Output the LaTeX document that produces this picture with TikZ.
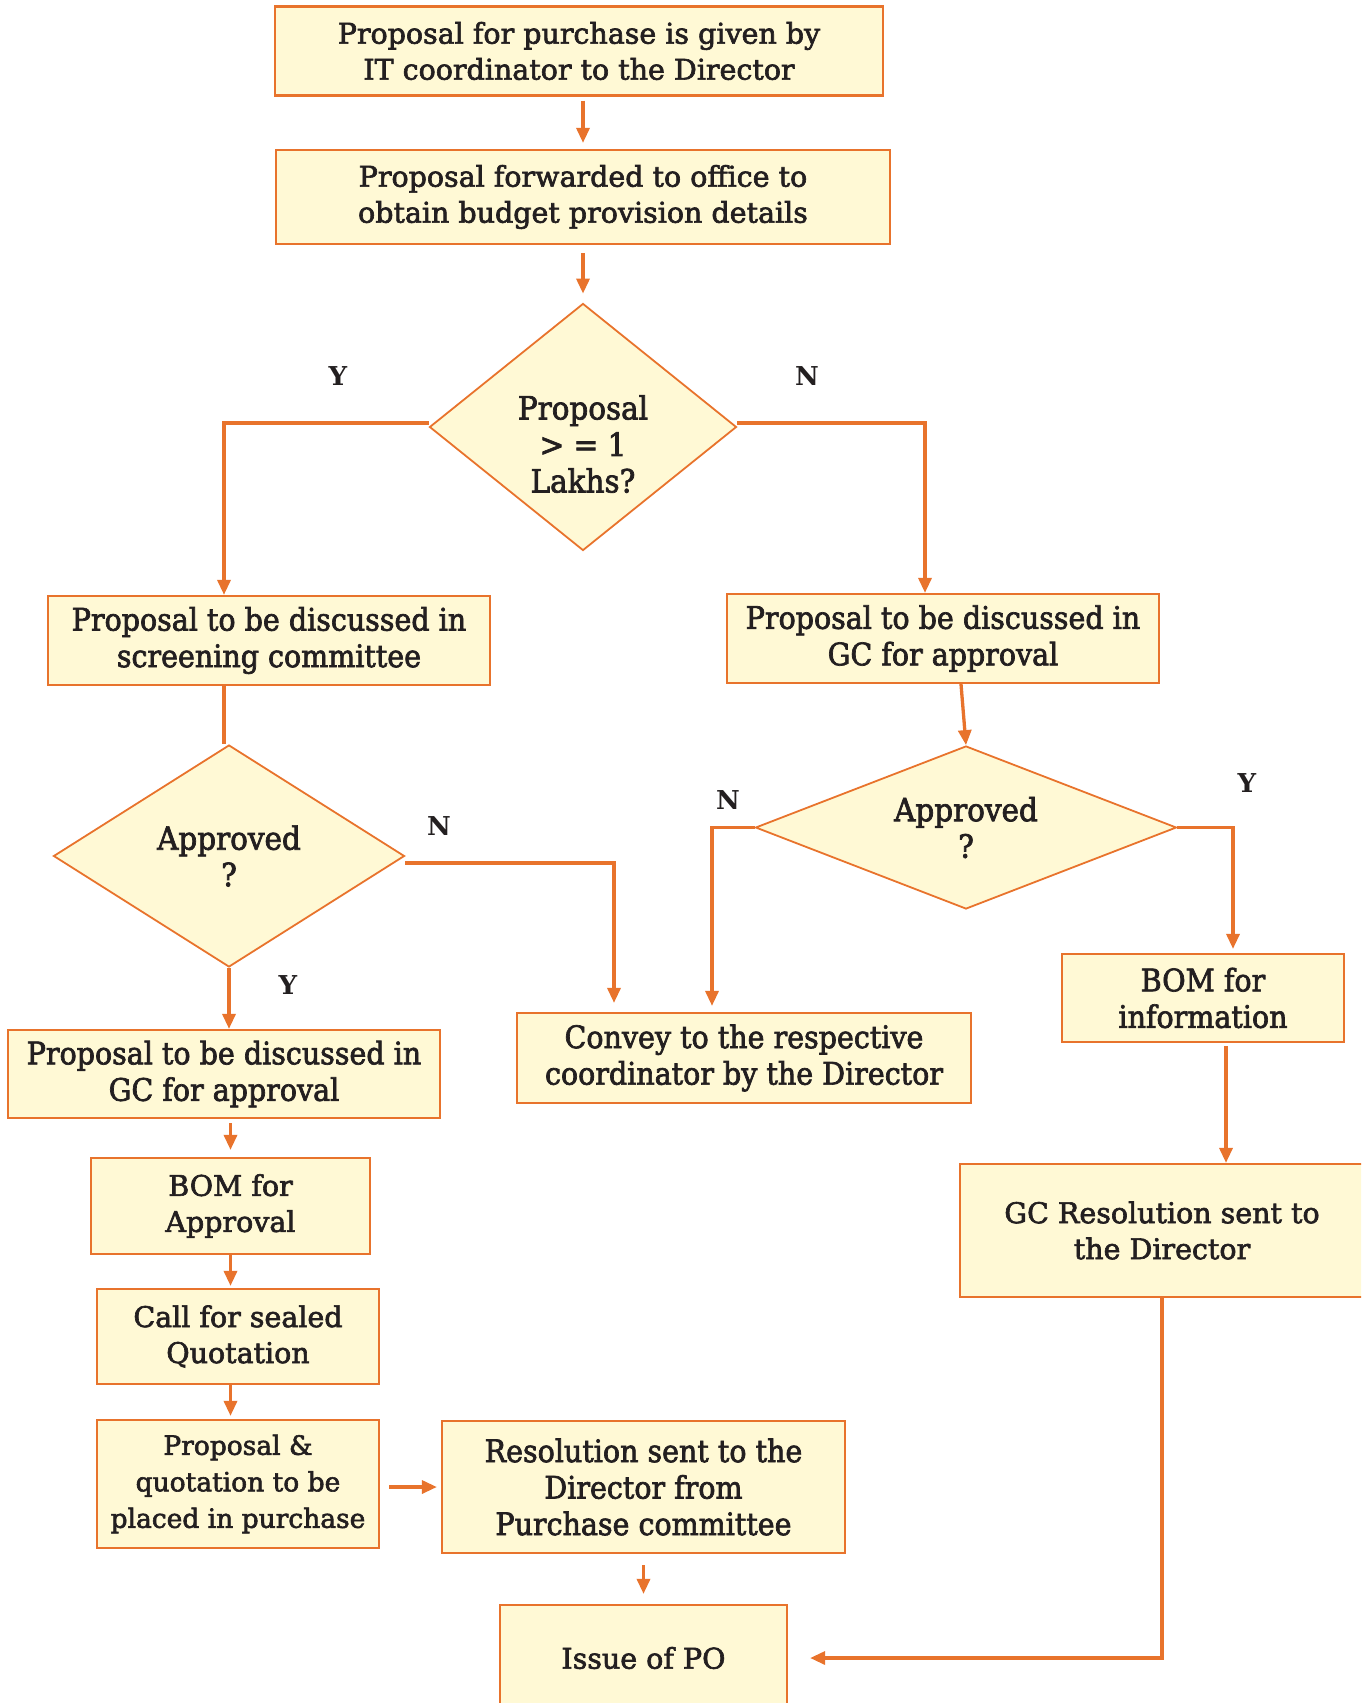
\documentclass[tikz,border=0pt]{standalone}
\usepackage{fontspec}
\setmainfont{DejaVu Serif}
\newfontfamily\slabtext[FakeBold=2.2]{DejaVu Serif}
\newfontfamily\slabnarrow[FakeStretch=0.92,FakeBold=2.2]{DejaVu Serif}
\usetikzlibrary{shapes.geometric,arrows.meta,calc}
\definecolor{edge}{HTML}{E8732C}
\definecolor{paper}{HTML}{FFF9D5}
\definecolor{ink}{HTML}{231F20}

\begin{document}
\begin{tikzpicture}[x=1pt,y=-1pt,
  box/.style={draw=edge, fill=paper, line width=2.2pt, inner sep=0pt,
    align=center, text=ink, font=\slabtext\fontsize{28.5}{36}\selectfont},
  narrowbox/.style={box, font=\slabnarrow\fontsize{31}{36.5}\selectfont},
  decision/.style={draw=edge, fill=paper, line width=1.8pt, diamond,
    inner sep=0pt, shape aspect=1},
  dtext/.style={align=center, text=ink, inner sep=0pt,
    font=\slabnarrow\fontsize{32}{36.5}\selectfont},
  yn/.style={text=ink, inner sep=0pt, font=\bfseries\fontsize{26}{30}\selectfont},
  conn/.style={draw=edge, line width=3.3pt,
    -{Triangle[length=15pt,width=13pt]}},
  plain/.style={draw=edge, line width=3.3pt}
]
\useasboundingbox (0,0) rectangle (1361,1703);
\clip (0,0) rectangle (1361,1703);

% process boxes
\node[box, minimum width=608pt, minimum height=89pt] (start) at (579,51)
  {Proposal for purchase is given by\\IT coordinator to the Director};
\node[box, minimum width=614pt, minimum height=94pt] (office) at (583,197)
  {Proposal forwarded to office to\\obtain budget provision details};
\node[narrowbox, minimum width=442pt, minimum height=89pt] (screen) at (269,640.5)
  {Proposal to be discussed in\\screening committee};
\node[narrowbox, minimum width=432pt, minimum height=89pt] (gcright) at (943,638.5)
  {Proposal to be discussed in\\GC for approval};
\node[narrowbox, minimum width=432pt, minimum height=88pt] (gcleft) at (224,1074)
  {Proposal to be discussed in\\GC for approval};
\node[narrowbox, minimum width=454pt, minimum height=90pt] (convey) at (744,1058)
  {Convey to the respective\\coordinator by the Director};
\node[narrowbox, minimum width=282pt, minimum height=88pt] (bominfo) at (1203,998)
  {BOM for\\information};
\node[box, minimum width=404pt, minimum height=133pt] (gcres) at (1162,1230.5)
  {GC Resolution sent to\\the Director};
\node[box, minimum width=279pt, minimum height=96pt] (bomapp) at (230.5,1206)
  {BOM for\\Approval};
\node[box, minimum width=282pt, minimum height=95pt] (sealed) at (238,1336.5)
  {Call for sealed\\Quotation};
\node[box, minimum width=282pt, minimum height=128pt, font=\slabtext\fontsize{26.5}{36.5}\selectfont] (placed) at (238,1484)
  {Proposal \&\\quotation to be\\placed in purchase};
\node[narrowbox, minimum width=403pt, minimum height=132pt] (resol) at (643.5,1487)
  {Resolution sent to the\\Director from\\Purchase committee};
\node[box, minimum width=287pt, minimum height=106pt] (po) at (643.5,1658)
  {Issue of PO};

% decisions
\node[decision, minimum width=307pt, minimum height=247pt] (amount) at (583,427) {};
\node[dtext] (amountq) at (583,444) {Proposal\\> = 1\\Lakhs?};
\node[decision, minimum width=351pt, minimum height=222pt] (okleft) at (229,856) {};
\node[dtext] (okleftq) at (229,856) {Approved\\?};
\node[decision, minimum width=421pt, minimum height=163pt, shape aspect=2.5] (okright) at (966,827.5) {};
\node[dtext] (okrightq) at (966,827.5) {Approved\\?};

% branch labels
\node[yn] (y1) at (338,376) {Y};
\node[yn] (n1) at (807,376) {N};
\node[yn] (n2) at (439,826) {N};
\node[yn] (y2) at (288,985) {Y};
\node[yn] (n3) at (728,800) {N};
\node[yn] (y3) at (1247,783) {Y};

% main trunk
\draw[conn, shorten <=4pt, shorten >=6pt] (start.south -| office.north) -- (office.north);
\draw[conn, shorten <=8pt, shorten >=9pt] (office.south) -- (amount.north);

% first decision
\draw[conn] ([yshift=4pt]amount.west) -| ([xshift=-45pt]screen.north);
\draw[conn] ([yshift=4pt]amount.east) -| ([xshift=-18pt]gcright.north);

% screening committee branch
\draw[plain] ([xshift=-45pt]screen.south) -- ([xshift=-45pt]screen.south |- okleft.north);
\draw[conn] (okleft.south) -- (okleft.south |- gcleft.north);
\draw[conn, shorten >=9pt] ([yshift=-7pt]okleft.east) -| ([xshift=-130pt]convey.north);

% GC branch on the right
\draw[conn] ([xshift=18pt]gcright.south) -- (okright.north);
\draw[conn, shorten >=6pt] (okright.west) -| ([xshift=-32pt]convey.north);
\draw[conn, shorten >=4pt] (okright.east) -| ([xshift=30pt]bominfo.north);
\draw[conn, shorten <=3pt] ([xshift=23pt]bominfo.south) -- ([xshift=23pt]bominfo.south |- gcres.north);
\draw[conn, shorten >=22pt] (gcres.south) |- (po.east);

% purchase chain on the left
\draw[conn, shorten <=4pt, shorten >=7pt] (bomapp.north |- gcleft.south) -- (bomapp.north);
\draw[conn, shorten >=2pt] (bomapp.south) -- (bomapp.south |- sealed.north);
\draw[conn, shorten >=3pt] (bomapp.south |- sealed.south) -- (bomapp.south |- placed.north);
\draw[conn, shorten <=9pt, shorten >=4pt] (placed.east |- resol.west) -- (resol.west);
\draw[conn, shorten <=11pt, shorten >=10pt] (resol.south) -- (po.north);
\end{tikzpicture}
\end{document}
